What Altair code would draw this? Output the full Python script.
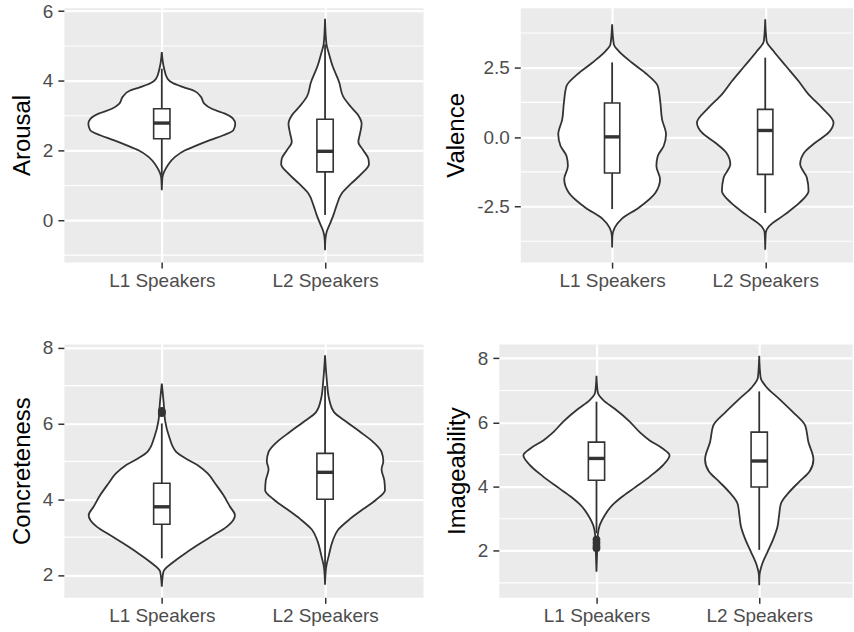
import altair as alt
import pandas as pd

groups = ["L1 Speakers", "L2 Speakers"]

# ---- violin outlines (value, half-width in x-units) ----
arousal_l1_y = [4.83, 4.40, 4.06, 3.94, 3.82, 3.71, 3.54, 3.35, 3.20, 3.06, 2.92, 2.77, 2.58, 2.44, 2.30, 2.15, 2.01, 1.82, 1.58, 1.39, 1.24, 0.86]
arousal_l1_w = [0.0, 0.012, 0.035, 0.067, 0.132, 0.200, 0.240, 0.260, 0.306, 0.387, 0.436, 0.450, 0.438, 0.377, 0.295, 0.214, 0.143, 0.081, 0.037, 0.014, 0.004, 0.0]
arousal_l2_y = [5.78, 5.07, 4.78, 4.44, 3.97, 3.54, 3.25, 3.01, 2.77, 2.49, 2.25, 2.01, 1.77, 1.61, 1.34, 1.05, 0.77, 0.43, 0.15, -0.09, -0.33, -0.57, -0.86]
arousal_l2_w = [0.0, 0.008, 0.024, 0.045, 0.086, 0.112, 0.159, 0.204, 0.224, 0.214, 0.204, 0.234, 0.265, 0.269, 0.224, 0.159, 0.102, 0.071, 0.051, 0.031, 0.010, 0.002, 0.0]

valence_l1_y = [4.06, 3.34, 3.10, 2.68, 2.26, 1.84, 1.24, 0.64, 0.10, -0.32, -0.68, -1.04, -1.51, -2.00, -2.54, -2.95, -3.26, -3.55, -3.97]
valence_l1_w = [0.0, 0.011, 0.043, 0.130, 0.228, 0.298, 0.315, 0.326, 0.352, 0.337, 0.298, 0.289, 0.313, 0.283, 0.174, 0.061, 0.017, 0.002, 0.0]
valence_l2_y = [4.24, 3.46, 3.10, 2.56, 2.02, 1.54, 1.06, 0.52, 0.16, -0.20, -0.56, -0.97, -1.46, -1.94, -2.36, -2.80, -3.20, -3.43, -4.05]
valence_l2_w = [0.0, 0.009, 0.054, 0.135, 0.217, 0.283, 0.370, 0.446, 0.413, 0.326, 0.254, 0.228, 0.272, 0.283, 0.224, 0.124, 0.026, 0.004, 0.0]

concrete_l1_y = [7.05, 6.52, 6.08, 5.65, 5.25, 5.07, 4.90, 4.68, 4.42, 4.11, 3.80, 3.58, 3.45, 3.27, 3.05, 2.83, 2.57, 2.31, 2.09, 1.69]
concrete_l1_w = [0.0, 0.012, 0.020, 0.045, 0.088, 0.149, 0.220, 0.281, 0.326, 0.377, 0.418, 0.448, 0.438, 0.397, 0.316, 0.234, 0.143, 0.061, 0.010, 0.0]
concrete_l2_y = [7.80, 7.18, 6.66, 6.30, 6.04, 5.78, 5.51, 5.25, 5.00, 4.79, 4.50, 4.24, 4.00, 3.74, 3.48, 3.20, 2.88, 2.53, 2.18, 1.74]
concrete_l2_w = [0.0, 0.010, 0.024, 0.055, 0.132, 0.214, 0.295, 0.346, 0.357, 0.346, 0.363, 0.367, 0.316, 0.234, 0.153, 0.081, 0.045, 0.024, 0.006, 0.0]

image_l1_y = [7.46, 6.94, 6.69, 6.43, 6.03, 5.70, 5.44, 5.20, 4.98, 4.69, 4.33, 3.97, 3.68, 3.42, 3.11, 2.80, 2.49, 1.97, 1.35]
image_l1_w = [0.0, 0.008, 0.043, 0.112, 0.204, 0.265, 0.327, 0.404, 0.449, 0.412, 0.331, 0.235, 0.155, 0.096, 0.051, 0.020, 0.008, 0.004, 0.0]
image_l2_y = [8.08, 7.41, 7.10, 6.74, 6.34, 5.91, 5.39, 4.85, 4.48, 4.15, 3.83, 3.47, 3.11, 2.75, 2.39, 1.97, 1.56, 1.25, 0.93]
image_l2_w = [0.0, 0.008, 0.045, 0.122, 0.204, 0.282, 0.302, 0.333, 0.310, 0.245, 0.184, 0.133, 0.122, 0.112, 0.088, 0.051, 0.016, 0.002, 0.0]

# ---- box plot summaries [L1, L2] ----
arousal_box = {"lo": [1.30, 0.15], "q1": [2.34, 1.39], "med": [2.79, 1.98], "q3": [3.20, 2.90], "hi": [4.35, 5.05]}
valence_box = {"lo": [-2.59, -2.73], "q1": [-1.29, -1.34], "med": [0.01, 0.24], "q3": [1.23, 1.00], "hi": [2.69, 2.86]}
concrete_box = {"lo": [2.44, 2.20], "q1": [3.34, 4.00], "med": [3.80, 4.71], "q3": [4.42, 5.21], "hi": [6.00, 6.99]}
image_box = {"lo": [2.55, 2.03], "q1": [4.20, 3.99], "med": [4.88, 4.80], "q3": [5.39, 5.70], "hi": [6.65, 6.97]}

concrete_outliers_l1 = [6.27, 6.30, 6.33]
image_outliers_l1 = [2.08, 2.15, 2.25, 2.35]

# ---- axes ----
arousal_ticks = [0, 2, 4, 6]
arousal_minor = [-1, 1, 3, 5]
valence_ticks = [-2.5, 0, 2.5]
valence_minor = [-3.75, -1.25, 1.25, 3.75]
concrete_ticks = [2, 4, 6, 8]
concrete_minor = [3, 5, 7]
image_ticks = [2, 4, 6, 8]
image_minor = [1, 3, 5, 7]

FONT = "Liberation Sans"
INK = "#333333"
BOX_HALF = 0.05


def panel(title, violins, box, outliers, ydom, ticks, minor, xmax, width, height, fmt):
    bdf = pd.DataFrame({
        "group": groups,
        "pos": [1, 2],
        "bl": [1 - BOX_HALF, 2 - BOX_HALF],
        "br": [1 + BOX_HALF, 2 + BOX_HALF],
        **box,
    })
    odf = pd.DataFrame({"pos": [1] * len(outliers), "v": outliers})
    mdf = pd.DataFrame({"v": minor})

    yscale = alt.Scale(domain=ydom, nice=False, zero=False)
    xscale = alt.Scale(domain=[0.4, xmax], nice=False, zero=False)
    if fmt:
        lab = "datum.value < 0 ? '-' + format(abs(datum.value), '.1f') : format(datum.value, '.1f')"
    else:
        lab = "format(datum.value, 'd')"
    yaxis = alt.Axis(values=ticks, labelExpr=lab)
    xaxis = alt.Axis(values=[1, 2],
                     labelExpr="datum.value == 1 ? '%s' : '%s'" % (groups[0], groups[1]))

    def Y(f):
        return alt.Y(f, type="quantitative", scale=yscale, axis=yaxis, title=title)

    def X(f):
        return alt.X(f, type="quantitative", scale=xscale, axis=xaxis, title=None, stack=None)

    layers = [alt.Chart(mdf).mark_rule(color="white", strokeWidth=1.1).encode(y=Y("v"))]
    for gi, (ys, ws) in enumerate(violins):
        pos = gi + 1
        vdf = pd.DataFrame({
            "y": ys,
            "lo": [pos - w for w in ws],
            "hi": [pos + w for w in ws],
        })
        layers.append(alt.Chart(vdf).mark_area(
            orient="horizontal", interpolate="monotone", fill="white",
            stroke=INK, strokeWidth=1.8,
        ).encode(y=Y("y"), x=X("lo"), x2="hi"))
    layers.append(alt.Chart(bdf).mark_rule(color=INK, strokeWidth=1.8).encode(
        x=X("pos"), y=Y("lo"), y2="hi"))
    layers.append(alt.Chart(bdf).mark_rect(fill="white", stroke=INK, strokeWidth=1.6).encode(
        x=X("bl"), x2="br", y=Y("q1"), y2="q3"))
    layers.append(alt.Chart(bdf).mark_rule(color=INK, strokeWidth=3.4).encode(
        x=X("bl"), x2="br", y=Y("med")))
    if len(outliers):
        layers.append(alt.Chart(odf).mark_circle(size=60, color=INK, opacity=1).encode(
            x=X("pos"), y=Y("v")))
    return alt.layer(*layers).properties(width=width, height=height)


p1 = panel("Arousal", [(arousal_l1_y, arousal_l1_w), (arousal_l2_y, arousal_l2_w)], arousal_box, [],
           [-1.2, 6.1], arousal_ticks, arousal_minor, 2.6, 360, 255, False)
p2 = panel("Valence", [(valence_l1_y, valence_l1_w), (valence_l2_y, valence_l2_w)], valence_box, [],
           [-4.5, 4.66], valence_ticks, valence_minor, 2.57, 333, 255, True)
p3 = panel("Concreteness", [(concrete_l1_y, concrete_l1_w), (concrete_l2_y, concrete_l2_w)], concrete_box,
           concrete_outliers_l1, [1.41, 8.1], concrete_ticks, concrete_minor, 2.6, 360, 254, False)
p4 = panel("Imageability", [(image_l1_y, image_l1_w), (image_l2_y, image_l2_w)], image_box,
           image_outliers_l1, [0.55, 8.45], image_ticks, image_minor, 2.57, 354, 254, False)

row1 = alt.hconcat(p1, p2, spacing=97.5, bounds="flush")
row2 = alt.hconcat(p3, p4, spacing=76, bounds="flush")

chart = alt.vconcat(row1, row2, spacing=47).properties(
    padding={"left": 9, "top": 0, "right": 0, "bottom": 0}
).configure_view(
    fill="#EBEBEB", stroke="transparent"
).configure_axis(
    grid=True, gridColor="white", gridWidth=2.2, domain=False,
    tickSize=6, tickColor=INK, tickWidth=1.5,
    labelFont=FONT, labelFontSize=19, labelColor="#4D4D4D",
    titleFont=FONT, titleFontSize=24, titleColor="black", titleFontWeight="normal",
).configure_axisY(
    labelPadding=5, titlePadding=8,
).configure_axisX(
    labelPadding=3,
)

chart.save("out.html", embed_options={"renderer": "svg", "actions": False})
